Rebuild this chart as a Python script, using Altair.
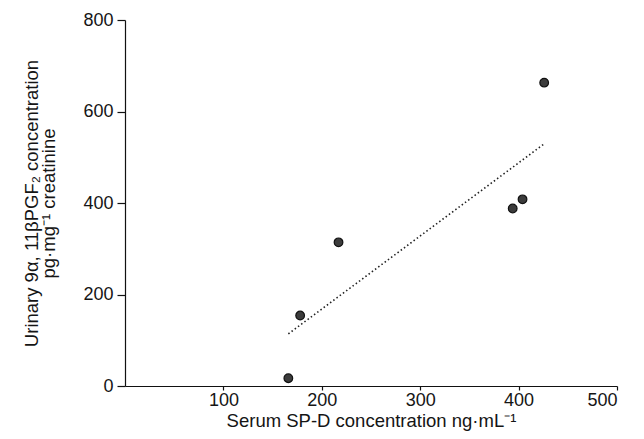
import altair as alt
import pandas as pd

sp_d = [166, 178, 217, 394, 404, 426]
pgf2 = [17, 154, 314, 388, 408, 663]

x_ticks = [100, 200, 300, 400, 500]
y_ticks = [0, 200, 400, 600, 800]

df = pd.DataFrame({"x": sp_d, "y": pgf2})

FONT = "Liberation Sans"

x_enc = alt.X("x:Q", scale=alt.Scale(domain=[0, 500], nice=False, zero=True),
              axis=alt.Axis(values=x_ticks, title="Serum SP-D concentration ng·mL⁻¹",
                            grid=False, tickSize=4, labelPadding=1, titlePadding=2,
                            labelFontSize=18, titleFontSize=18.5))
y_enc = alt.Y("y:Q", scale=alt.Scale(domain=[0, 800], nice=False),
              axis=alt.Axis(values=y_ticks,
                            title=["Urinary 9α, 11βPGF₂ concentration", "pg·mg⁻¹ creatinine"],
                            grid=False, tickSize=8, labelPadding=4, titlePadding=24,
                            labelFontSize=18, titleFontSize=18.5, titleLineHeight=17))

points = alt.Chart(df).mark_point(filled=True, size=75, color="#3c3c3c", stroke="#111",
                                  strokeWidth=1.2, opacity=1).encode(x=x_enc, y=y_enc)

fit = alt.Chart(df).transform_regression("x", "y").mark_line(
    color="#222", strokeDash=[1.5, 2.5], strokeWidth=1.6).encode(x="x:Q", y="y:Q")

chart = alt.layer(fit, points).properties(
    width=492, height=366,
    autosize=alt.AutoSizeParams(type="none"),
    padding={"left": 117, "top": 12, "right": 19, "bottom": 45},
).configure_view(stroke=None).configure_axis(
    domainColor="#111", tickColor="#111", domainWidth=1.2, tickWidth=1.2,
    labelFont=FONT, titleFont=FONT,
    labelColor="#151515", titleColor="#151515", titleFontWeight="normal",
)

chart.save("out.html", embed_options={"renderer": "svg", "actions": False})
